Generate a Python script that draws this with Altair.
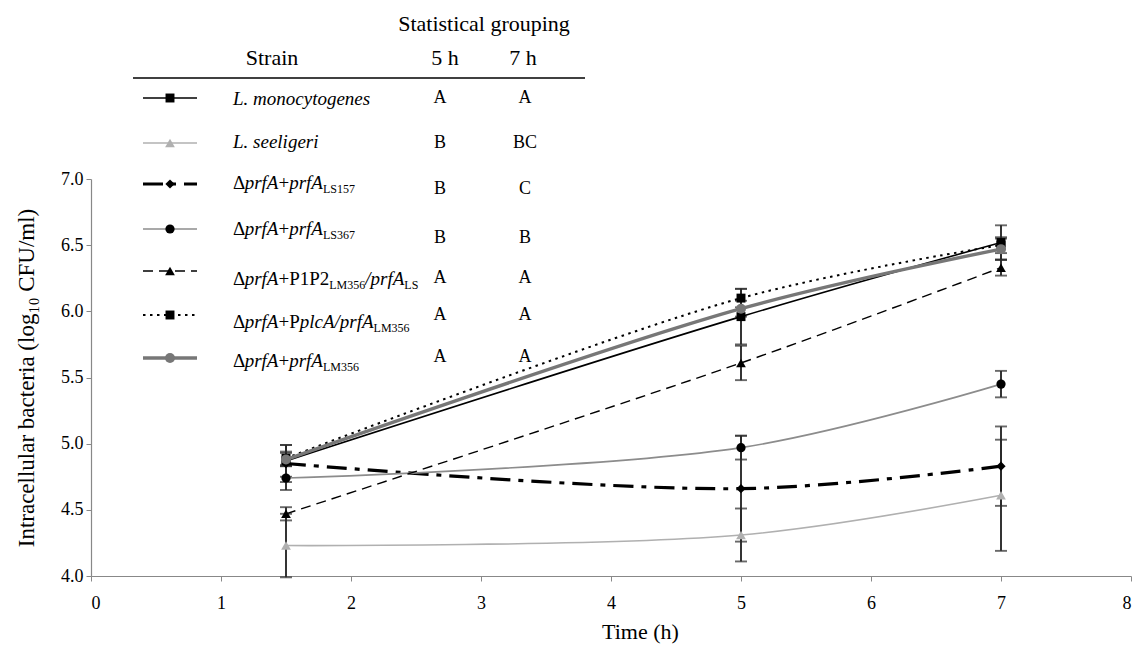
import altair as alt
import pandas as pd

# ---------------- data ----------------
times = [1.5, 5, 7]
strain_names = ["L. monocytogenes", "L. seeligeri", "ΔprfA+prfA LS157", "ΔprfA+prfA LS367",
                "ΔprfA+P1P2 LM356/prfA LS", "ΔprfA+PplcA/prfA LM356", "ΔprfA+prfA LM356"]
mono_mean = [4.87, 5.96, 6.52]
mono_err = [0.12, 0.21, 0.13]
seel_mean = [4.23, 4.31, 4.61]
seel_err = [0.24, 0.20, 0.42]
ls157_mean = [4.85, 4.66, 4.83]
ls157_err = [0.14, 0.40, 0.30]
ls367_mean = [4.74, 4.97, 5.45]
ls367_err = [0.09, 0.09, 0.10]
p1p2_mean = [4.47, 5.61, 6.33]
p1p2_err = [0.05, 0.13, 0.06]
pplca_mean = [4.89, 6.10, 6.50]
pplca_err = [0.05, 0.07, 0.06]
lm356_mean = [4.88, 6.02, 6.47]
lm356_err = [0.05, 0.06, 0.08]
group_5h = ["A", "B", "B", "B", "A", "A", "A"]
group_7h = ["A", "BC", "C", "B", "A", "A", "A"]
x_ticks = [0, 1, 2, 3, 4, 5, 6, 7, 8]
y_ticks = [4.0, 4.5, 5.0, 5.5, 6.0, 6.5, 7.0]

means = [mono_mean, seel_mean, ls157_mean, ls367_mean, p1p2_mean, pplca_mean, lm356_mean]
errs = [mono_err, seel_err, ls157_err, ls367_err, p1p2_err, pplca_err, lm356_err]

# label segments: (text, kind) kind: i=italic, r=regular, s=subscript
label_segments = [
    [("L. monocytogenes", "i")],
    [("L. seeligeri", "i")],
    [("Δ", "r"), ("prfA", "i"), ("+", "r"), ("prfA", "i"), ("LS157", "s")],
    [("Δ", "r"), ("prfA", "i"), ("+", "r"), ("prfA", "i"), ("LS367", "s")],
    [("Δ", "r"), ("prfA", "i"), ("+P1P2", "r"), ("LM356", "s"), ("/prfA", "i"), ("LS", "s")],
    [("Δ", "r"), ("prfA", "i"), ("+P", "r"), ("plcA/prfA", "i"), ("LM356", "s")],
    [("Δ", "r"), ("prfA", "i"), ("+", "r"), ("prfA", "i"), ("LM356", "s")],
]

# ---------------- layout / style ----------------
LEFT, TOP, W, H = 91, 179, 1040, 397
X_MAX, Y_MIN, Y_MAX = 8.0, 4.0, 7.0
FONT = "Liberation Serif"
FS, SUB, HEAD = 19, 12, 22


def px_x(px):
    return (px - LEFT) / W * X_MAX


def px_y(py):
    return Y_MAX - (py - TOP) / H * (Y_MAX - Y_MIN)


styles = [
    dict(color="#000000", sw=1.6, dash=None, shape="square", mcolor="#000000", msize=80),
    dict(color="#b0b0b0", sw=1.6, dash=None, shape="triangle-up", mcolor="#b0b0b0", msize=95),
    dict(color="#000000", sw=3.2, dash=[20, 8, 5, 8], shape="diamond", mcolor="#000000", msize=85),
    dict(color="#8c8c8c", sw=1.6, dash=None, shape="circle", mcolor="#000000", msize=85),
    dict(color="#000000", sw=1.4, dash=[10, 6], shape="triangle-up", mcolor="#000000", msize=95),
    dict(color="#000000", sw=2.0, dash=[2.5, 4.5], shape="square", mcolor="#000000", msize=80),
    dict(color="#777777", sw=3.4, dash=None, shape="circle", mcolor="#777777", msize=100),
]

row_line_y = [98, 143, 184, 229, 271, 315, 358]
row_text_y = [105, 148, 189, 235, 285, 328, 367]
row_letter_y = [103, 148, 194, 243, 283, 320, 362]
SAMPLE_X0, SAMPLE_X1, MARK_X, TEXT_X = 143, 197, 170, 233
COL5_X, COL7_X = 440, 525

REG_W = {"Δ": 0.612, "+": 0.564, "P": 0.556, "1": 0.5, "2": 0.5, "/": 0.278}
ITA_W = {"p": 0.5, "r": 0.389, "f": 0.278, "A": 0.611, "l": 0.278, "c": 0.444, "/": 0.278}
SUB_W = {"L": 0.611, "S": 0.556, "M": 0.889, "1": 0.5, "3": 0.5, "5": 0.5, "6": 0.5, "7": 0.5}

X_TITLE = "Time (h)"
Y_TITLE = "Intracellular bacteria (log₁₀ CFU/ml)"
xs = alt.Scale(domain=[0, X_MAX], nice=False, zero=False)
ys = alt.Scale(domain=[Y_MIN, Y_MAX], nice=False, zero=False)


def X(f="t"):
    return alt.X(f"{f}:Q", scale=xs, title=X_TITLE,
                 axis=alt.Axis(values=x_ticks, format="d", titleX=549))


def Y(f="v"):
    return alt.Y(f"{f}:Q", scale=ys, title=Y_TITLE,
                 axis=alt.Axis(values=y_ticks, format=".1f"))


layers = []

# error bars
eb_rows = []
for i in range(len(strain_names)):
    for t, m, e in zip(times, means[i], errs[i]):
        eb_rows.append(dict(t=t, v=m - e, v2=m + e))
eb = pd.DataFrame(eb_rows)
layers.append(alt.Chart(eb).mark_rule(color="#2a2a2a", strokeWidth=1.9).encode(
    x=X(), y=Y(), y2="v2:Q"))
caps = pd.DataFrame([dict(t=r["t"], v=r["v"]) for r in eb_rows] + [dict(t=r["t"], v=r["v2"]) for r in eb_rows])
layers.append(alt.Chart(caps).mark_tick(orient="horizontal", size=12, thickness=1.9, color="#2a2a2a").encode(
    x=X(), y=Y()))

# lines + legend samples + markers
for i, name in enumerate(strain_names):
    st = styles[i]
    line_kw = dict(color=st["color"], strokeWidth=st["sw"])
    if st["dash"]:
        line_kw["strokeDash"] = st["dash"]
    df = pd.DataFrame(dict(t=times, v=means[i]))
    layers.append(alt.Chart(df).mark_line(interpolate="catmull-rom", **line_kw).encode(x=X(), y=Y()))
    leg = pd.DataFrame(dict(t=[px_x(SAMPLE_X0)], t2=[px_x(SAMPLE_X1)], v=[px_y(row_line_y[i])]))
    layers.append(alt.Chart(leg).mark_rule(**line_kw).encode(x=X(), x2="t2:Q", y=Y()))
    pts = pd.DataFrame(dict(t=times + [px_x(MARK_X)], v=means[i] + [px_y(row_line_y[i])]))
    layers.append(alt.Chart(pts).mark_point(shape=st["shape"], filled=True, color=st["mcolor"],
                                            size=st["msize"], opacity=1).encode(x=X(), y=Y()))

# legend text segments
seg_rows = {"i": [], "r": [], "s": []}
for i, segs in enumerate(label_segments):
    x = TEXT_X
    for txt, kind in segs:
        if kind == "s":
            seg_rows[kind].append(dict(t=px_x(x), v=px_y(row_text_y[i] + 4), txt=txt))
            x += sum(SUB_W.get(c, 0.5) for c in txt) * SUB
        else:
            seg_rows[kind].append(dict(t=px_x(x), v=px_y(row_text_y[i]), txt=txt))
            table = ITA_W if kind == "i" else REG_W
            x += sum(table.get(c, 0.5) for c in txt) * FS
for kind, rows in seg_rows.items():
    kw = dict(align="left", baseline="alphabetic", font=FONT, color="black",
              fontSize=SUB if kind == "s" else FS)
    if kind == "i":
        kw["fontStyle"] = "italic"
    layers.append(alt.Chart(pd.DataFrame(rows)).mark_text(**kw).encode(x=X(), y=Y(), text="txt:N"))

# group letters
letters = []
for i in range(len(strain_names)):
    letters.append(dict(t=px_x(COL5_X), v=px_y(row_letter_y[i]), txt=group_5h[i]))
    letters.append(dict(t=px_x(COL7_X), v=px_y(row_letter_y[i]), txt=group_7h[i]))
layers.append(alt.Chart(pd.DataFrame(letters)).mark_text(
    align="center", baseline="alphabetic", font=FONT, fontSize=18, color="black").encode(
    x=X(), y=Y(), text="txt:N"))

# header
header = pd.DataFrame([
    dict(t=px_x(484), v=px_y(31), txt="Statistical grouping"),
    dict(t=px_x(272), v=px_y(65), txt="Strain"),
    dict(t=px_x(445), v=px_y(65), txt="5 h"),
    dict(t=px_x(523), v=px_y(65), txt="7 h"),
])
layers.append(alt.Chart(header).mark_text(
    align="center", baseline="alphabetic", font=FONT, fontSize=HEAD, color="black").encode(
    x=X(), y=Y(), text="txt:N"))
hline = pd.DataFrame(dict(t=[px_x(133)], t2=[px_x(585)], v=[px_y(78)]))
layers.append(alt.Chart(hline).mark_rule(color="black", strokeWidth=1.6).encode(x=X(), x2="t2:Q", y=Y()))

chart = alt.layer(*layers).properties(
    width=W, height=H,
    padding={"left": LEFT, "top": TOP, "right": 4, "bottom": 71},
    autosize=alt.AutoSizeParams(type="none"),
    background="white",
).configure_view(stroke=None).configure_axis(
    grid=False, domainColor="#888888", tickColor="#888888", tickSize=5, domainWidth=1.2,
    labelFont=FONT, labelFontSize=18, labelColor="black",
    titleFont=FONT, titleFontSize=22, titleFontWeight="normal", titleColor="black",
).configure_axisX(labelPadding=13, titlePadding=9).configure_axisY(labelPadding=3, titlePadding=22, titleFontSize=23)

chart.save("out.html", embed_options={"renderer": "svg", "actions": False})
